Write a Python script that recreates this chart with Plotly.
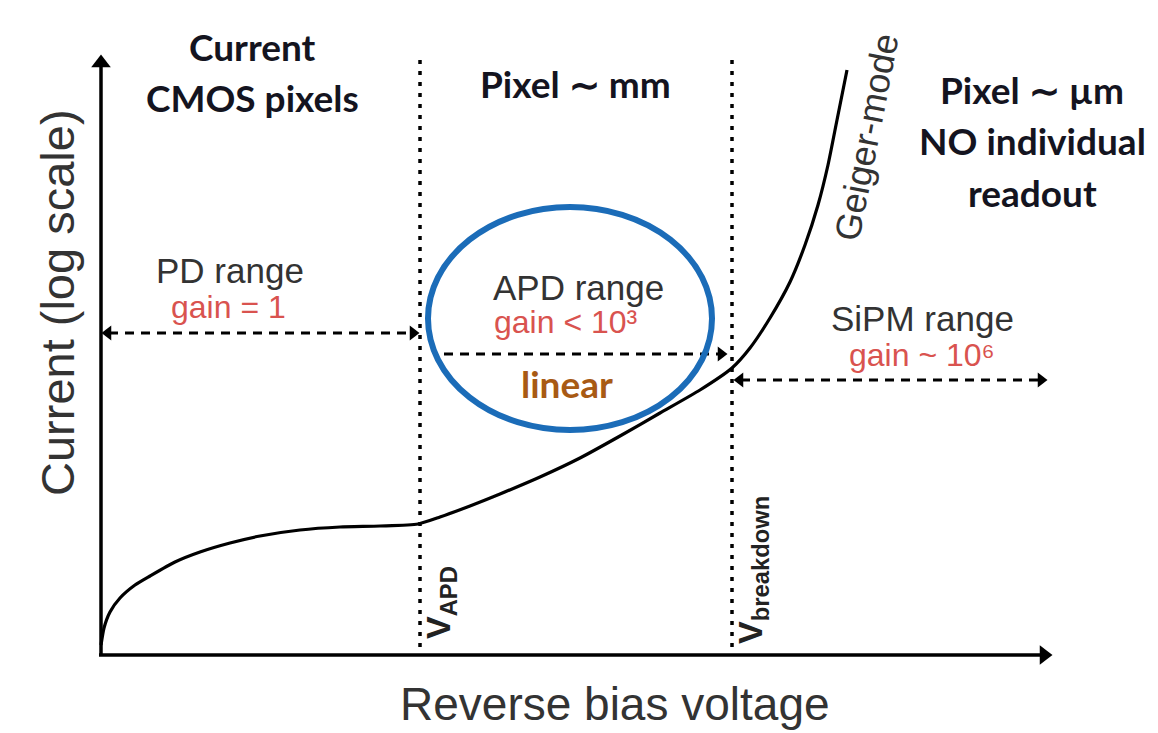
import plotly.graph_objects as go

W, H = 1158, 733

# ---- schematic data (diagram coordinates: x = bias voltage, y = current, screen-like units) ----
curve_v = [101, 104, 110, 120, 135, 150, 175, 200, 230, 260, 300, 340, 380, 418,
           440, 470, 500, 540, 580, 620, 660, 700, 732,
           750, 770, 790, 805, 818, 828, 837, 847]
curve_i = [645, 628, 612, 598, 585, 576, 562, 552, 543, 536, 530, 527, 526, 524,
           517, 506, 494, 477, 458, 436, 413, 390, 368,
           348, 318, 282, 245, 205, 165, 120, 70]

v_apd = 420
v_breakdown = 732
axis_origin = (101, 655)
axis_x_end = 1052
axis_y_end = 55
divider_top = 60

pd_range = (103, 418, 333)
apd_range = (438, 726, 354)
sipm_range = (735, 1046, 380)

ellipse_box = (428, 712, 207, 430)

header_left = ["Current", "CMOS pixels"]
header_mid = ["Pixel ∼ mm"]
header_right = ["Pixel ∼ µm", "NO individual", "readout"]

gray = "#333333"
red = "#d9534f"
dark = "#141420"
sans = "Liberation Sans, Arial, sans-serif"
bold = "Lato, Open Sans, sans-serif"

fig = go.Figure()

# main curve
fig.add_trace(go.Scatter(x=curve_v, y=curve_i, mode="lines",
                         line=dict(color="black", width=3.2, shape="spline", smoothing=0.6),
                         hoverinfo="skip"))

# axes
ox, oy = axis_origin
fig.add_trace(go.Scatter(x=[ox, ox], y=[oy, axis_y_end + 10], mode="lines",
                         line=dict(color="black", width=3.5), hoverinfo="skip"))
fig.add_trace(go.Scatter(x=[ox - 2, axis_x_end - 10], y=[oy, oy], mode="lines",
                         line=dict(color="black", width=3.5), hoverinfo="skip"))
fig.add_trace(go.Scatter(x=[ox], y=[axis_y_end + 8], mode="markers",
                         marker=dict(symbol="triangle-up", size=17, color="black"), hoverinfo="skip"))
fig.add_trace(go.Scatter(x=[axis_x_end - 8], y=[oy], mode="markers",
                         marker=dict(symbol="triangle-right", size=17, color="black"), hoverinfo="skip"))

# dotted dividers
for xv in (v_apd, v_breakdown):
    fig.add_trace(go.Scatter(x=[xv, xv], y=[divider_top, oy], mode="lines",
                             line=dict(color="black", width=3.5, dash="4px,7px"), hoverinfo="skip"))

# dashed range arrows
def range_arrow(x0, x1, y, left=True, right=True):
    fig.add_trace(go.Scatter(x=[x0 + 6, x1 - 6], y=[y, y], mode="lines",
                             line=dict(color="black", width=3, dash="9px,7px"), hoverinfo="skip"))
    if left:
        fig.add_trace(go.Scatter(x=[x0 + 5], y=[y], mode="markers",
                                 marker=dict(symbol="triangle-left", size=13, color="black"), hoverinfo="skip"))
    if right:
        fig.add_trace(go.Scatter(x=[x1 - 5], y=[y], mode="markers",
                                 marker=dict(symbol="triangle-right", size=13, color="black"), hoverinfo="skip"))

range_arrow(pd_range[0], pd_range[1], pd_range[2])
range_arrow(apd_range[0], apd_range[1], apd_range[2], left=False)
range_arrow(sipm_range[0], sipm_range[1], sipm_range[2])

# blue ellipse
ex0, ex1, ey0, ey1 = ellipse_box
fig.add_shape(type="circle", xref="x", yref="y", x0=ex0, x1=ex1, y0=ey0, y1=ey1,
              line=dict(color="#1b6cb8", width=6))

def txt(x, y, s, size, color, family=sans, angle=0):
    fig.add_annotation(x=x, y=y, xref="x", yref="y", text=s, showarrow=False,
                       textangle=angle, xanchor="center", yanchor="middle",
                       font=dict(size=size, color=color, family=family))

# axis titles
txt(57, 303, "Current (log scale)", 47, gray, angle=-90)
txt(615, 704, "Reverse bias voltage", 46, gray)

# region labels
txt(230, 270, "PD range", 35, gray)
txt(228, 307, "gain = 1", 32, red)
txt(578, 287, "APD range", 35, gray)
txt(566, 322, "gain &lt; 10³", 32, red)
txt(567, 383, "<b>linear</b>", 37, "#a85a14", family=bold)
txt(922, 318, "SiPM range", 35, gray)
txt(922, 355, "gain ~ 10⁶", 32, red)

# top headers (one annotation per line)
for s, y in zip(header_left, [46, 97]):
    txt(252, y, f"<b>{s}</b>", 37, dark, family=bold)
for s, y in zip(header_mid, [83]):
    txt(575, y, f"<b>{s}</b>", 37, dark, family=bold)
for s, y in zip(header_right, [89, 140, 192]):
    txt(1032, y, f"<b>{s}</b>", 37, dark, family=bold)

# curve & voltage labels
txt(866, 137, "Geiger-mode", 36, gray, angle=-79)
txt(440, 603, "<b>V<sub>APD</sub></b>", 34, "#222222", angle=-90)
txt(752, 570, "<b>V<sub>breakdown</sub></b>", 34, "#222222", angle=-90)

fig.update_layout(
    width=W, height=H, margin=dict(l=0, r=0, t=0, b=0),
    paper_bgcolor="white", plot_bgcolor="white", showlegend=False,
    xaxis=dict(range=[0, W], visible=False, fixedrange=True),
    yaxis=dict(range=[H, 0], visible=False, fixedrange=True),
)
fig.write_html("out.html")
